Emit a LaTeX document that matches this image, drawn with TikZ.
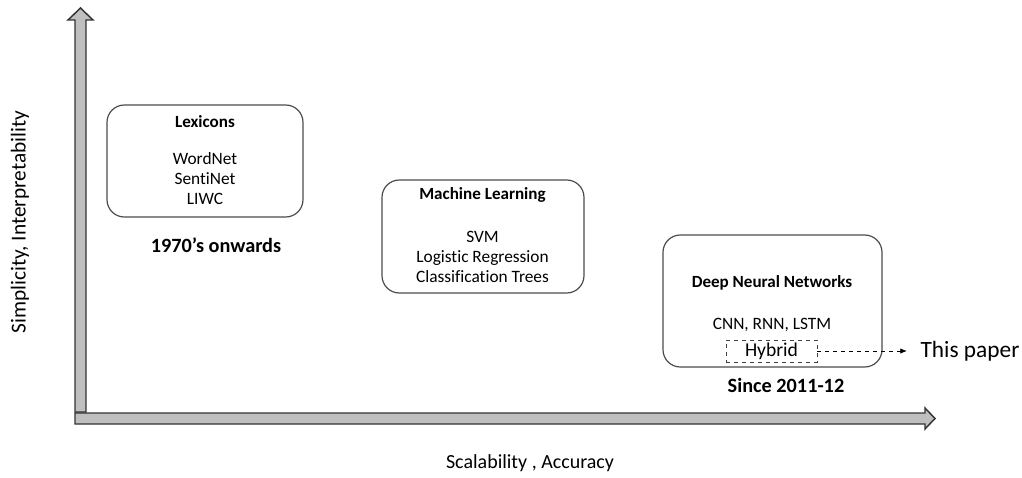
\documentclass[tikz,border=0pt]{standalone}
\usepackage{fontspec}
\setmainfont{Carlito}[Ligatures=NoCommon]
\usetikzlibrary{positioning,arrows.meta}
\tikzset{
  era/.style={draw=black!70, line width=0.9pt, rounded corners=13pt, inner sep=0pt},
  axisarrow/.style={fill=black!25, draw=black!80, line width=1.1pt, line join=miter},
  heading/.style={font=\fontsize{12.8}{15}\selectfont\bfseries},
  items/.style={font=\fontsize{13}{15}\selectfont, align=center},
  since/.style={font=\fontsize{15.2}{18}\selectfont\bfseries},
  axislabel/.style={font=\fontsize{#1}{18}\selectfont}
}
\begin{document}
\begin{tikzpicture}[x=0.75pt,y=-0.75pt]
  \useasboundingbox (0,0) rectangle (1022,478);
  % axes
  \draw[axisarrow] (75,412) -- (75,20) -- (68,20) -- (80.5,8) -- (93,20) -- (86,20) -- (86,412) -- cycle;
  \draw[axisarrow] (75,413) -- (925,413) -- (925,408) -- (935,418.5) -- (925,429) -- (925,424) -- (75,424) -- cycle;
  \node[axislabel=16, rotate=90] (ylabel) at (20,222) {Simplicity, Interpretability};
  \node[axislabel=15] (xlabel) at (530,463) {Scalability , Accuracy};

  % lexicons
  \node[era, minimum width=147pt, minimum height=84pt] (lex) at (205,161) {};
  \node[heading] (lextitle) at (205,122) {Lexicons};
  \node[items] (lexitems) at (205,179) {WordNet\\SentiNet\\LIWC};
  \node[since] (lexsince) at (216,245) {1970’s onwards};

  % machine learning
  \node[era, minimum width=151.5pt, minimum height=84.75pt] (ml) at (483,236.5) {};
  \node[heading] (mltitle) at (482.5,195) {Machine Learning};
  \node[items] (mlitems) at (482.5,257) {SVM\\Logistic Regression\\Classification Trees};

  % deep neural networks
  \node[era, minimum width=164.25pt, minimum height=99pt] (dnn) at (772.5,301) {};
  \node[heading] (dnntitle) at (772,283) {Deep Neural Networks};
  \node[items] (dnnitems) at (772,325) {CNN, RNN, LSTM};
  \node[draw=black!75, dashed, line width=0.6pt, minimum width=68.25pt, minimum height=16.5pt,
        inner sep=0pt, font=\fontsize{14.7}{17}\selectfont] (hybrid) at (771.5,351) {Hybrid};
  \node[since] (dnnsince) at (786,385) {Since 2011-12};

  \node[font=\fontsize{17.5}{20}\selectfont, anchor=west, inner xsep=10pt, inner ysep=0pt] (paper) at (907,351) {This paper};
  \draw[dashed, line width=0.6pt, -{Latex[length=5pt,width=4pt]}] (hybrid) -- (paper);
\end{tikzpicture}
\end{document}
